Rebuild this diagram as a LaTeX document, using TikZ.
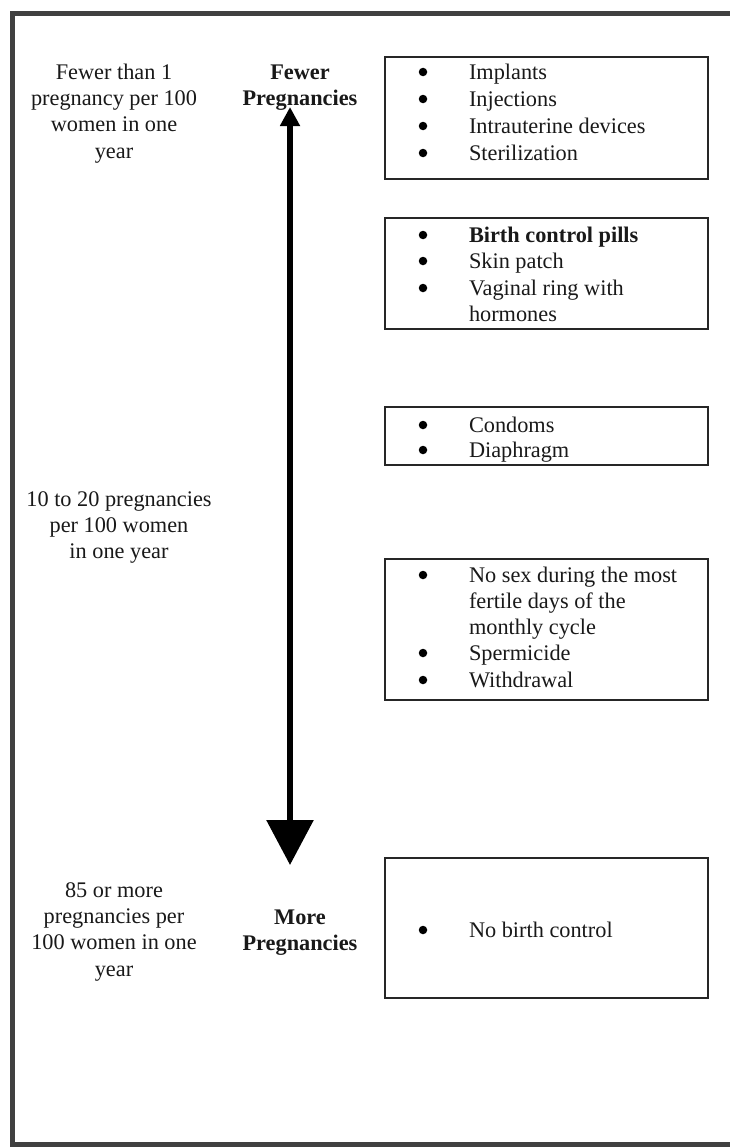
\documentclass[tikz,border=0pt]{standalone}
\usepackage{fontspec}
\setmainfont{Liberation Serif}
\usetikzlibrary{arrows.meta}
\newcommand{\fsz}{\fontsize{22.3pt}{26.4pt}\selectfont}
\newcommand{\tstrut}{\rule{0pt}{17pt}}
\tikzset{
  txt/.style={inner sep=0pt, outer sep=0pt, font=\fsz, text=black!90},
  blk/.style={txt, align=center, anchor=north},
  item/.style={txt, anchor=base west},
  mitem/.style={txt, align=left, anchor=north west},
  bul/.style={circle, fill=black, inner sep=0pt, minimum size=8.5pt},
  listbox/.style={draw=black!85, line width=1.8pt},
  frame/.style={draw=black!75, line width=5pt},
  scalearrow/.style={line width=6pt, black}
}
\begin{document}
\begin{tikzpicture}[x=1pt,y=-1pt]
\useasboundingbox (0,0) rectangle (730,1148);
\clip (0,0) rectangle (730,1148);
\fill[white] (0,0) rectangle (730,1148);
% outer frame (right side beyond the picture)
\draw[frame] (745,14) -- (12,14) -- (12,1144) -- (745,1144);

% left column
\node[blk] (lt1) at (114,62) {\tstrut Fewer than 1\\pregnancy per 100\\women in one\\year};
\node[blk] (lt2) at (119,489) {\tstrut 10 to 20 pregnancies\\per 100 women\\in one year};
\node[blk] (lt3) at (114,880) {\tstrut 85 or more\\pregnancies per\\100 women in one\\year};

% scale labels
\node[blk, font=\fsz\bfseries] (fewer) at (300,62) {\tstrut Fewer\\Pregnancies};
\node[blk, font=\fsz\bfseries] (more) at (300,907) {\tstrut More\\Pregnancies};

% scale arrow
\coordinate (atop) at (290,107);
\coordinate (abot) at (290,865);
\draw[scalearrow, {Triangle[length=19pt,width=19pt]}-{Triangle[length=45pt,width=46pt]}] (atop) -- (abot);

% boxes
\node[listbox, minimum width=323pt, minimum height=122pt, anchor=north west] (box1) at (384,56) {};
\node[listbox, minimum width=323pt, minimum height=111pt, anchor=north west] (box2) at (384,217) {};
\node[listbox, minimum width=323pt, minimum height=58pt, anchor=north west] (box3) at (384,406) {};
\node[listbox, minimum width=323pt, minimum height=141pt, anchor=north west] (box4) at (384,558) {};
\node[listbox, minimum width=323pt, minimum height=140pt, anchor=north west] (box5) at (384,857) {};

% box 1
\node[bul] (b11) at (423,72) {};
\node[item] (i11) at (469,79) {Implants};
\node[bul] (b12) at (423,99) {};
\node[item] (i12) at (469,106) {Injections};
\node[bul] (b13) at (423,126) {};
\node[item] (i13) at (469,133) {Intrauterine devices};
\node[bul] (b14) at (423,153) {};
\node[item] (i14) at (469,160) {Sterilization};

% box 2
\node[bul] (b21) at (423,235) {};
\node[item, font=\fsz\bfseries] (i21) at (469,242) {Birth control pills};
\node[bul] (b22) at (423,261) {};
\node[item] (i22) at (469,268) {Skin patch};
\node[bul] (b23) at (423,288) {};
\node[mitem] (i23) at (469,278) {\tstrut Vaginal ring with\\hormones};

% box 3
\node[bul] (b31) at (423,425) {};
\node[item] (i31) at (469,432) {Condoms};
\node[bul] (b32) at (423,450) {};
\node[item] (i32) at (469,457) {Diaphragm};

% box 4
\node[bul] (b41) at (423,575) {};
\node[mitem] (i41) at (469,565) {\tstrut No sex during the most\\fertile days of the\\monthly cycle};
\node[bul] (b42) at (423,653) {};
\node[item] (i42) at (469,660) {Spermicide};
\node[bul] (b43) at (423,680) {};
\node[item] (i43) at (469,687) {Withdrawal};

% box 5
\node[bul] (b51) at (423,930) {};
\node[item] (i51) at (469,937) {No birth control};
\end{tikzpicture}
\end{document}
